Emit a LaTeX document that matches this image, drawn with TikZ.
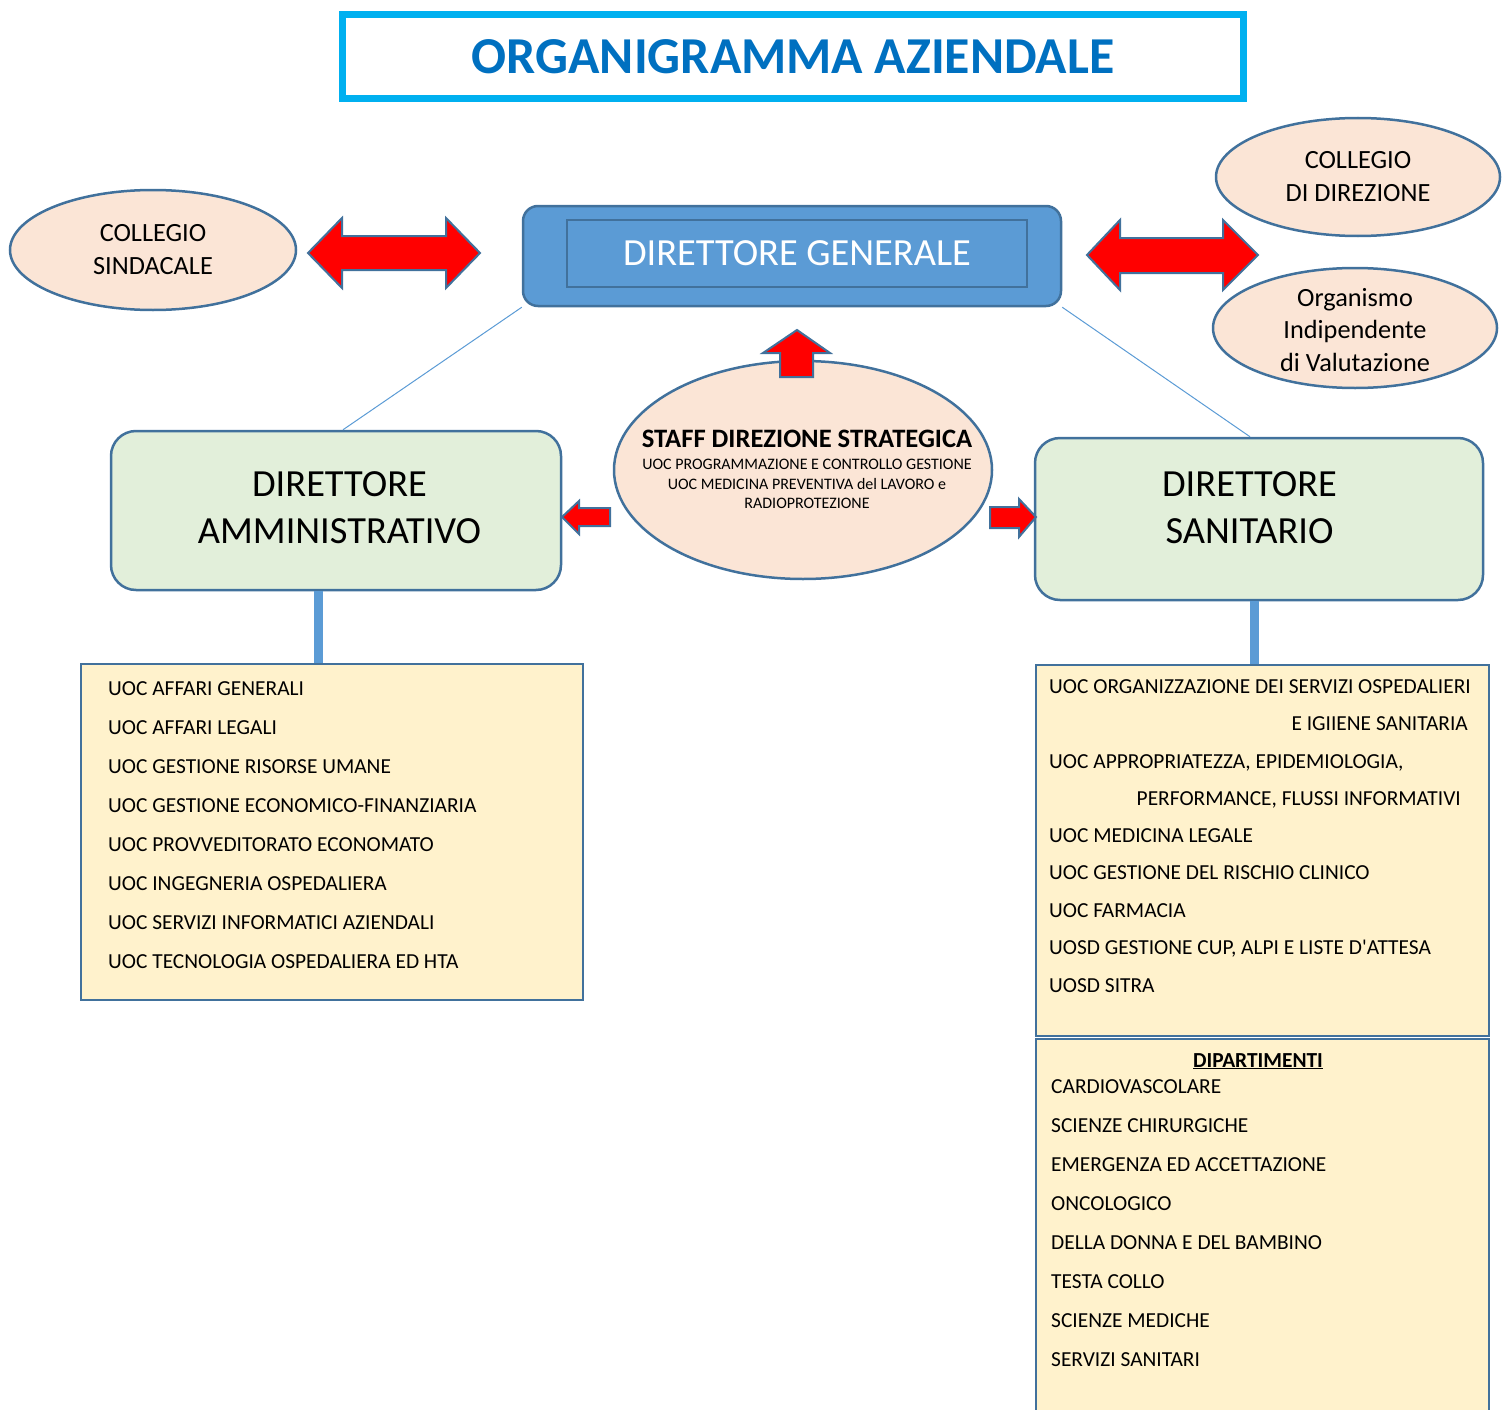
\documentclass[tikz,border=0pt]{standalone}
\usepackage{fontspec}
\setmainfont{Carlito}
\usetikzlibrary{shapes.geometric}

\definecolor{framecyan}{HTML}{00B0F0}
\definecolor{titleblue}{HTML}{0070C0}
\definecolor{dgblue}{HTML}{5B9BD5}
\definecolor{edgeblue}{HTML}{41719C}
\definecolor{peach}{HTML}{FBE5D6}
\definecolor{palegreen}{HTML}{E2EFDA}
\definecolor{paleyellow}{HTML}{FFF2CC}

\begin{document}
\begin{tikzpicture}[x=1pt,y=-1pt,
    oval/.style={shape=ellipse,draw=edgeblue,line width=2.5pt,fill=peach,inner sep=0pt,align=center,font=\fontsize{26.3}{33}\selectfont},
    ovaltext/.style={align=center,inner sep=0pt,font=\fontsize{26.3}{32.5}\selectfont},
    dirbox/.style={shape=rectangle,rounded corners=25pt,draw=edgeblue,line width=2.5pt,fill=palegreen},
    dirtext/.style={align=center,inner sep=0pt,font=\fontsize{38.4}{47}\selectfont},
    listbox/.style={shape=rectangle,draw=edgeblue,line width=2.5pt,fill=paleyellow},
    listitem/.style={anchor=base west,inner sep=0pt,font=\fontsize{21.4}{26}\selectfont},
    bigarrow/.style={draw=edgeblue,line width=2pt,fill=red,line join=miter},
    trunk/.style={draw=dgblue,line width=9pt},
    link/.style={draw=dgblue,line width=1pt}]
    \useasboundingbox (0,0) rectangle (1510,1410);
    \clip (0,0) rectangle (1510,1410);

    % title
    \node[draw=framecyan,line width=7pt,minimum width=901pt,minimum height=84pt,inner sep=0pt,
          text=titleblue,font=\bfseries\fontsize{51.8}{60}\selectfont] (title) at (793,56.5) {ORGANIGRAMMA AZIENDALE};

    % direttore generale
    \node[dirbox,fill=dgblue,rounded corners=15pt,minimum width=538pt,minimum height=100pt] (dg) at (792,256) {};
    \node[draw=edgeblue,line width=2.5pt,minimum width=460pt,minimum height=67pt,text=white,
          font=\fontsize{38.4}{47}\selectfont] (dgname) at (797,253.5) {DIRETTORE GENERALE};

    % collegi
    \node[oval,minimum width=286pt,minimum height=120pt] (sind) at (153,250) {COLLEGIO\\SINDACALE};
    \node[oval,minimum width=284pt,minimum height=118pt] (cdir) at (1358,177) {COLLEGIO\\DI DIREZIONE};
    \node[oval,minimum width=284pt,minimum height=120pt] (oiv) at (1355,328) {};
    \node[ovaltext] (oivtext) at (1355,330) {Organismo\\Indipendente\\di Valutazione};

    % staff
    \node[oval,minimum width=378pt,minimum height=218pt] (staff) at (803,470) {};
    \node[anchor=base,inner sep=0pt,font=\bfseries\fontsize{26.6}{30}\selectfont] (stafftitle) at (807,447.5) {STAFF DIREZIONE STRATEGICA};
    \node[anchor=base,inner sep=0pt,font=\fontsize{16}{19}\selectfont] (staff1) at (807,469) {UOC PROGRAMMAZIONE E CONTROLLO GESTIONE};
    \node[anchor=base,inner sep=0pt,font=\fontsize{16}{19}\selectfont] (staff2) at (807,489) {UOC MEDICINA PREVENTIVA del LAVORO e};
    \node[anchor=base,inner sep=0pt,font=\fontsize{16}{19}\selectfont] (staff3) at (807,508) {RADIOPROTEZIONE};

    % direttori
    \node[dirbox,minimum width=450pt,minimum height=159pt] (da) at (336,510.5) {};
    \node[dirtext] (datext) at (339.5,507.5) {DIRETTORE\\AMMINISTRATIVO};
    \node[dirbox,minimum width=448pt,minimum height=162pt] (ds) at (1259,519) {};
    \node[dirtext] (dstext) at (1249.5,507.5) {DIRETTORE\\SANITARIO};

    \draw[link] (dg.south west) -- ([xshift=7pt]da.north);
    \draw[link] (dg.south east) -- ([xshift=-9pt]ds.north);

    % red arrows
    \draw[bigarrow] (308,253) -- (342,218) -- (342,236) -- (446,236) -- (446,218) -- (480,253)
        -- (446,288) -- (446,270) -- (342,270) -- (342,288) -- cycle;
    \draw[bigarrow] (1087,255) -- (1120,220) -- (1120,238) -- (1223,238) -- (1223,220) -- (1258,255)
        -- (1223,290) -- (1223,273) -- (1120,273) -- (1120,290) -- cycle;
    \draw[bigarrow] (797,330) -- (830,353) -- (813,353) -- (813,377) -- (780,377) -- (780,353) -- (763,353) -- cycle;
    \draw[bigarrow] (562,517) -- (579,501) -- (579,508) -- (610,508) -- (610,526) -- (579,526) -- (579,534) -- cycle;
    \draw[bigarrow] (1036,517) -- (1019,499) -- (1019,507) -- (990,507) -- (990,528) -- (1019,528) -- (1019,537) -- cycle;

    % lists
    \node[listbox,minimum width=502pt,minimum height=336pt] (admlist) at (332,832) {};
    \node[listbox,minimum width=453pt,minimum height=371pt] (sanlist) at (1262.5,850.5) {};
    \node[listbox,minimum width=453pt,minimum height=380pt] (diplist) at (1262.5,1229) {};

    \draw[trunk] ([xshift=-18pt]da.south) -- ([xshift=-18pt]da.south |- admlist.north);
    \draw[trunk] ([xshift=-5pt]ds.south) -- ([xshift=-5pt]ds.south |- sanlist.north);

    \foreach \txt [count=\i from 0] in {UOC AFFARI GENERALI,UOC AFFARI LEGALI,UOC GESTIONE RISORSE UMANE,
        UOC GESTIONE ECONOMICO-FINANZIARIA,UOC PROVVEDITORATO ECONOMATO,UOC INGEGNERIA OSPEDALIERA,
        UOC SERVIZI INFORMATICI AZIENDALI,UOC TECNOLOGIA OSPEDALIERA ED HTA}
        \node[listitem] (adm\i) at (108,695+39*\i) {\txt};

    \node[listitem] (san1) at (1049,693) {UOC ORGANIZZAZIONE DEI SERVIZI OSPEDALIERI};
    \node[listitem,anchor=base east] (san1b) at (1468,730) {E IGIIENE SANITARIA};
    \node[listitem] (san2) at (1049,768) {UOC APPROPRIATEZZA, EPIDEMIOLOGIA,};
    \node[listitem,anchor=base east] (san2b) at (1461,805) {PERFORMANCE, FLUSSI INFORMATIVI};
    \foreach \txt [count=\i from 3] in {UOC MEDICINA LEGALE,UOC GESTIONE DEL RISCHIO CLINICO,UOC FARMACIA,
        {UOSD GESTIONE CUP, ALPI E LISTE D\textquotesingle ATTESA},UOSD SITRA}
        \node[listitem] (san\i) at (1049,842+37.5*\i-112.5) {\txt};

    \node[listitem,anchor=base,font=\bfseries\fontsize{21.4}{26}\selectfont] (diptitle) at (1258,1067) {\underline{DIPARTIMENTI}};
    \foreach \txt [count=\i from 0] in {CARDIOVASCOLARE,SCIENZE CHIRURGICHE,EMERGENZA ED ACCETTAZIONE,ONCOLOGICO,
        DELLA DONNA E DEL BAMBINO,TESTA COLLO,SCIENZE MEDICHE,SERVIZI SANITARI}
        \node[listitem] (dip\i) at (1051,1093+39.1*\i) {\txt};
\end{tikzpicture}
\end{document}
